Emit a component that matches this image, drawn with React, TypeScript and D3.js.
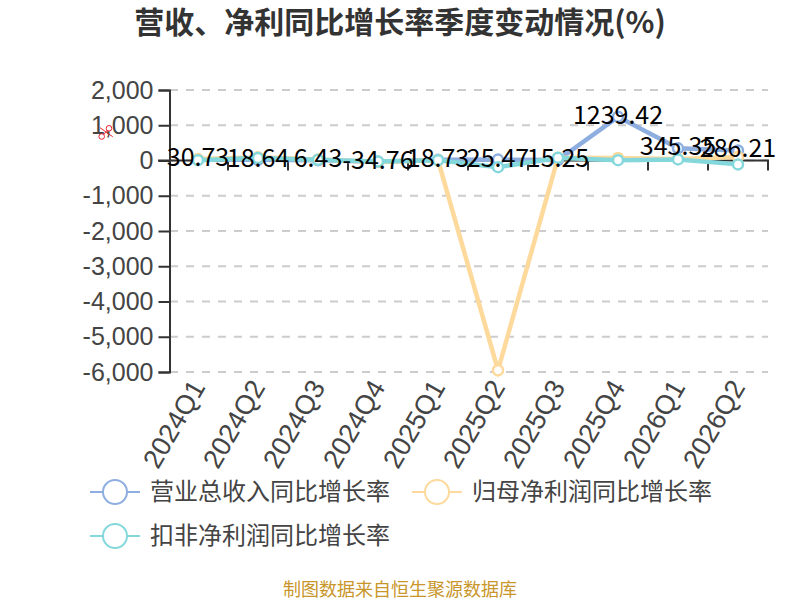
import { useEffect, useRef } from 'react';
import * as d3 from 'd3';

const quarters = ['2024Q1', '2024Q2', '2024Q3', '2024Q4', '2025Q1', '2025Q2', '2025Q3', '2025Q4', '2026Q1', '2026Q2'];
const revenueGrowth = [30.73, 18.64, 6.43, -34.76, 18.73, 25.47, 15.25, 1239.42, 345.35, 286.21];
const netProfitGrowth = [40, 90, 30, -40, 10, -5950, 80, 70, 40, 100];
const adjustedGrowth = [10, 70, 20, -30, 10, -190, 80, 10, 30, -110];
const yTicks = [2000, 1000, 0, -1000, -2000, -3000, -4000, -5000, -6000];

const seriesNames = ['营业总收入同比增长率', '归母净利润同比增长率', '扣非净利润同比增长率'];
const seriesColors = ['#8eaee0', '#fdd99c', '#84d8dc'];
const seriesValues = [revenueGrowth, netProfitGrowth, adjustedGrowth];

const latinFont = '"Liberation Sans", Arial, sans-serif';
const cjkFont = '"Noto Sans CJK SC", sans-serif';

export default function App() {
  const svgRef = useRef<SVGSVGElement>(null);

  useEffect(() => {
    if (!svgRef.current) return;
    d3.select(svgRef.current).selectAll('*').remove();
    const svg = d3.select(svgRef.current);

    const xScale = d3.scaleBand<string>().domain(quarters).range([168, 768]);
    const yScale = d3.scaleLinear().domain([-6000, 2000]).range([372, 90]);
    const cx = (q: string) => (xScale(q) as number) + xScale.bandwidth() / 2;
    const commas = d3.format(',');

    // title
    svg.append('text')
      .attr('x', 400).attr('y', 33)
      .attr('text-anchor', 'middle')
      .attr('font-family', cjkFont)
      .attr('font-size', 30).attr('font-weight', 700)
      .attr('fill', '#333')
      .text('营收、净利同比增长率季度变动情况(%)');

    // grid
    svg.append('g').selectAll('line')
      .data(yTicks)
      .enter().append('line')
      .attr('x1', 170).attr('x2', 768)
      .attr('y1', d => yScale(d)).attr('y2', d => yScale(d))
      .attr('stroke', '#ccc').attr('stroke-width', 2)
      .attr('stroke-dasharray', '8 8');

    // y axis
    const yAxis = svg.append('g')
      .attr('transform', 'translate(169.5,0)')
      .call(d3.axisLeft(yScale)
        .tickValues(yTicks)
        .tickSize(11)
        .tickPadding(5)
        .tickFormat(d => commas(d as number).replace('−', '-')));
    yAxis.selectAll('path, line').attr('stroke', '#333').attr('stroke-width', 2);
    yAxis.selectAll('text')
      .attr('font-family', latinFont).attr('font-size', 25).attr('fill', '#444');

    // x axis line sits at zero
    const zero = yScale(0);
    svg.append('line')
      .attr('x1', 158).attr('x2', 769)
      .attr('y1', zero).attr('y2', zero)
      .attr('stroke', '#333').attr('stroke-width', 2);
    svg.append('g').selectAll('line')
      .data(quarters)
      .enter().append('line')
      .attr('x1', d => (xScale(d) as number) + xScale.bandwidth())
      .attr('x2', d => (xScale(d) as number) + xScale.bandwidth())
      .attr('y1', zero).attr('y2', zero + 10)
      .attr('stroke', '#333').attr('stroke-width', 2);

    // x labels
    svg.append('g').selectAll('text')
      .data(quarters)
      .enter().append('text')
      .attr('transform', d => `translate(${cx(d) + 8},${387}) rotate(-60)`)
      .attr('text-anchor', 'end')
      .attr('font-family', latinFont).attr('font-size', 27).attr('fill', '#444')
      .text(d => d);

    // lines
    const line = d3.line<number>()
      .x((_, i) => cx(quarters[i]))
      .y(d => yScale(d));

    seriesValues.forEach((values, s) => {
      svg.append('path')
        .datum(values)
        .attr('fill', 'none')
        .attr('stroke', seriesColors[s])
        .attr('stroke-width', 4.5)
        .attr('d', line);
      svg.append('g').selectAll('circle')
        .data(values)
        .enter().append('circle')
        .attr('cx', (_, i) => cx(quarters[i]))
        .attr('cy', d => yScale(d))
        .attr('r', 5)
        .attr('fill', '#fff')
        .attr('stroke', seriesColors[s])
        .attr('stroke-width', 2.5);
    });

    // data labels
    svg.append('g').selectAll('text')
      .data(revenueGrowth)
      .enter().append('text')
      .attr('x', (_, i) => cx(quarters[i]))
      .attr('y', d => yScale(d) + 7)
      .attr('text-anchor', 'middle')
      .attr('font-family', cjkFont)
      .attr('font-size', 25).attr('fill', '#000')
      .text(d => String(d));

    // legend
    const legendPos = [[90, 492], [412, 492], [90, 536]];
    seriesNames.forEach((name, s) => {
      const [lx, ly] = legendPos[s];
      const g = svg.append('g').attr('transform', `translate(${lx},${ly})`);
      g.append('line')
        .attr('x1', 0).attr('x2', 50)
        .attr('stroke', seriesColors[s]).attr('stroke-width', 2);
      g.append('circle')
        .attr('cx', 25).attr('r', 12)
        .attr('fill', '#fff')
        .attr('stroke', seriesColors[s]).attr('stroke-width', 2);
      g.append('text')
        .attr('x', 60).attr('y', 8)
        .attr('font-family', cjkFont).attr('font-size', 24).attr('fill', '#444')
        .text(name);
    });

    // small red scissors mark
    const scissors = svg.append('g').attr('fill', 'none').attr('stroke', '#e8212b').attr('stroke-width', 1);
    scissors.append('circle').attr('cx', 101.7).attr('cy', 136.5).attr('r', 2.8);
    scissors.append('circle').attr('cx', 109).attr('cy', 128.3).attr('r', 2.8);
    scissors.append('path').attr('d', 'M100 127.7L112.7 136.7M103.8 134.7L107 130.3');

    // source note
    svg.append('text')
      .attr('x', 400).attr('y', 596)
      .attr('text-anchor', 'middle')
      .attr('font-family', cjkFont)
      .attr('font-size', 18).attr('fill', '#c8962a')
      .text('制图数据来自恒生聚源数据库');
  }, []);

  return <svg ref={svgRef} width={800} height={600} style={{ position: 'absolute', left: 0, top: 0, background: '#fff' }} />;
}
